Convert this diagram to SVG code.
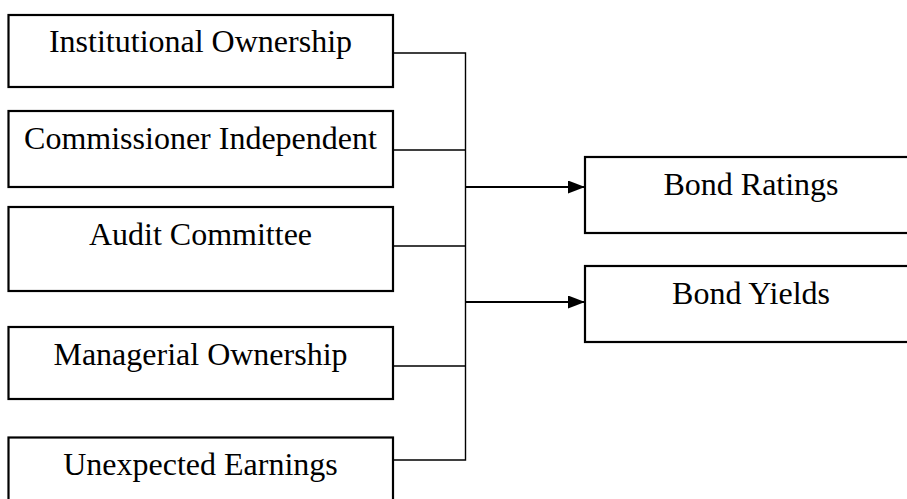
<svg xmlns="http://www.w3.org/2000/svg" width="907" height="499" viewBox="0 0 907 499">
  <style>
    .box { fill: #ffffff; stroke: #000000; stroke-width: 2.2; }
    .label { font-family: 'Liberation Serif', 'Times New Roman', Times, 'DejaVu Serif', serif; font-size: 32px; fill: #000000; text-anchor: middle; }
    .link { fill: none; stroke: #000000; stroke-width: 1.4; }
    .arrow { fill: none; stroke: #000000; stroke-width: 2.2; }
  </style>
  <defs>
    <marker id="head" viewBox="0 0 17 13" refX="17" refY="6.5" markerWidth="17" markerHeight="13" markerUnits="userSpaceOnUse" orient="auto">
      <path d="M0,0 L17,6.5 L0,13 Z" fill="#000000"/>
    </marker>
  </defs>
  <rect width="907" height="499" fill="#ffffff"/>

  <!-- left-hand factor boxes -->
  <g id="institutional-ownership">
    <rect class="box" x="8.5" y="15" width="384.5" height="72"/>
    <text class="label" font-family="Liberation Serif, serif" x="200.5" y="52">Institutional Ownership</text>
  </g>
  <g id="commissioner-independent">
    <rect class="box" x="8.5" y="111" width="384.5" height="76"/>
    <text class="label" font-family="Liberation Serif, serif" x="200.5" y="149">Commissioner Independent</text>
  </g>
  <g id="audit-committee">
    <rect class="box" x="8.5" y="207" width="384.5" height="84"/>
    <text class="label" font-family="Liberation Serif, serif" x="200.5" y="245">Audit Committee</text>
  </g>
  <g id="managerial-ownership">
    <rect class="box" x="8.5" y="327" width="384.5" height="72"/>
    <text class="label" font-family="Liberation Serif, serif" x="200.5" y="365">Managerial Ownership</text>
  </g>
  <g id="unexpected-earnings">
    <rect class="box" x="8.5" y="437.5" width="384.5" height="80"/>
    <text class="label" font-family="Liberation Serif, serif" x="200.5" y="475">Unexpected Earnings</text>
  </g>

  <!-- right-hand outcome boxes -->
  <g id="bond-ratings">
    <rect class="box" x="585" y="157" width="332" height="76"/>
    <text class="label" font-family="Liberation Serif, serif" x="751" y="195">Bond Ratings</text>
  </g>
  <g id="bond-yields">
    <rect class="box" x="585" y="266" width="332" height="76"/>
    <text class="label" font-family="Liberation Serif, serif" x="751" y="304">Bond Yields</text>
  </g>

  <!-- connectors -->
  <g id="connectors">
    <path class="link" d="M393,53 H465.5 M393,150 H465.5 M393,246 H465.5 M393,366 H465.5 M393,460 H465.5 M465.5,52.3 V460.7"/>
    <path class="arrow" d="M465.5,187 H585" marker-end="url(#head)"/>
    <path class="arrow" d="M465.5,302 H585" marker-end="url(#head)"/>
  </g>
</svg>
